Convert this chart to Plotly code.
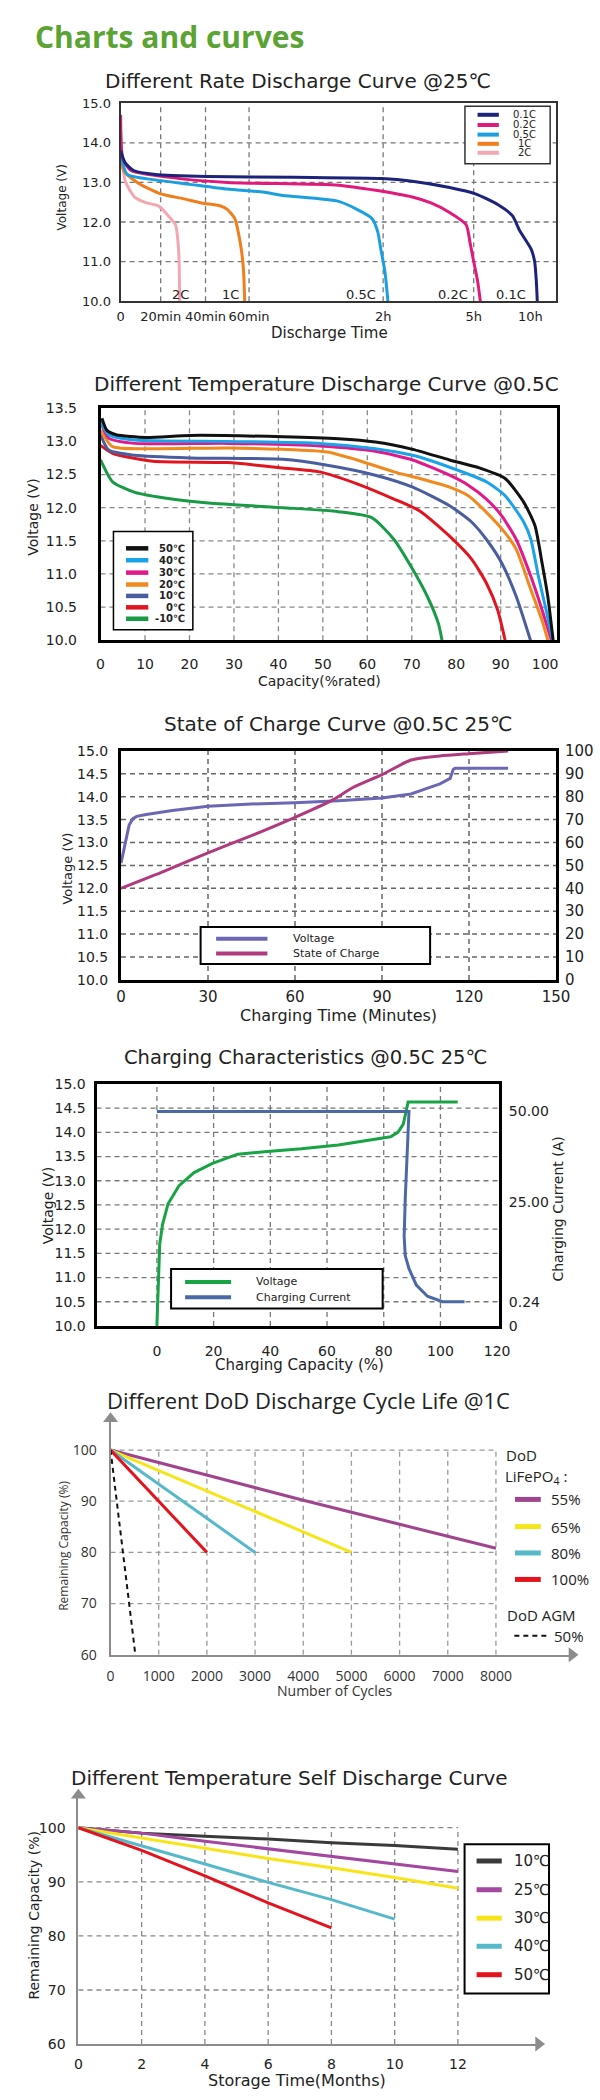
import numpy as np
import plotly.graph_objects as go

W, H = 600, 2100
F_DV = "DejaVu Sans"
F_OS = "Open Sans"

# ======================= DATA =======================
# --- Panel 1: Different Rate Discharge Curve @25C (time in minutes, voltage V)
RATE_NAMES = ["0.1C", "0.2C", "0.5C", "1C", "2C"]
R01_T = [0, 2.2, 6.5, 17.4, 41, 80.5, 119.4, 178, 252, 309, 427, 505, 545, 605, 623, 632, 637]
R01_V = [13.8, 13.5, 13.3, 13.2, 13.15, 13.13, 13.1, 13.03, 12.87, 12.71, 12.44, 12.16, 11.77, 11.31, 11.0, 10.5, 10.0]
R02_T = [0, 1.1, 5.2, 24.9, 50, 100, 116.7, 178, 215, 252, 285, 293, 300, 321, 335]
R02_V = [14.7, 13.6, 13.3, 13.12, 13.0, 12.93, 12.8, 12.63, 12.48, 12.24, 11.93, 11.46, 11.0, 10.5, 10.0]
R05_T = [0, 3.3, 16.3, 33.2, 50, 66.8, 75.2, 100, 108.3, 115, 117.5, 119, 123.5, 129.5]
R05_V = [13.75, 13.2, 13.07, 12.95, 12.83, 12.75, 12.67, 12.52, 12.32, 12.09, 11.77, 11.3, 10.75, 10.0]
R1_T = [0, 1.5, 8.9, 20, 29.9, 38.3, 46.6, 50, 53.4, 56, 57.4, 58]
R1_V = [14.3, 13.3, 12.98, 12.71, 12.59, 12.48, 12.41, 12.32, 12.09, 11.46, 10.83, 10.0]
R2_T = [0, 2.4, 7.0, 12.6, 19.1, 23.3, 26.6, 28.0, 28.5]
R2_V = [13.93, 13.02, 12.63, 12.49, 12.4, 12.16, 11.93, 11.3, 10.0]
RATE_T = [R01_T, R02_T, R05_T, R1_T, R2_T]
RATE_V = [R01_V, R02_V, R05_V, R1_V, R2_V]
RATE_END_LABEL_T = [496, 258, 110, 51.4, 28.7]
TIME_TICK_MIN = [0, 20, 40, 60, 120, 300, 600]
TIME_TICK_LABELS = ["0", "20min", "40min", "60min", "2h", "5h", "10h"]
VOLT_TICKS_1 = [10, 11, 12, 13, 14, 15]

# --- Panel 2: Different Temperature Discharge Curve @0.5C (capacity %, voltage V)
TEMP_NAMES = ["50℃", "40℃", "30℃", "20℃", "10℃", "0℃", "-10℃"]
T50_X = [0.3, 1.4, 3.5, 10.2, 20.2, 41, 53.5, 61.8, 70.2, 78.5, 85.2, 91, 95.2, 97.7, 99.3, 100.6, 101.8]
T50_V = [13.35, 13.17, 13.10, 13.06, 13.09, 13.07, 13.04, 12.99, 12.88, 12.72, 12.6, 12.44, 12.08, 11.73, 11.17, 10.66, 10.0]
T40_X = [0, 1.8, 7.7, 28.5, 49.3, 61.8, 70.2, 78.5, 86.8, 91, 95.2, 96.8, 98.5, 100.2, 101.7]
T40_V = [13.3, 13.1, 13.02, 13.0, 12.97, 12.89, 12.79, 12.61, 12.39, 12.18, 11.78, 11.52, 10.96, 10.46, 10.0]
T30_X = [0, 1.8, 7.7, 28.5, 49.3, 61.8, 70.2, 78.5, 82.7, 86.8, 90.2, 93.5, 96.8, 99.3, 101.4]
T30_V = [13.3, 13.05, 12.97, 12.97, 12.93, 12.85, 12.72, 12.49, 12.34, 12.13, 11.88, 11.52, 10.96, 10.46, 10.0]
T20_X = [0, 2.7, 11.8, 28.5, 41, 51, 57.7, 66, 71.8, 78.5, 82.7, 86.8, 91, 93.5, 96.8, 99.3, 100.6]
T20_V = [13.17, 12.92, 12.89, 12.9, 12.88, 12.84, 12.72, 12.54, 12.44, 12.31, 12.18, 11.93, 11.62, 11.37, 10.76, 10.3, 10.0]
T10_X = [0, 1.8, 7.7, 20.2, 41, 51, 61.8, 70.2, 78.5, 83.5, 86.8, 90.2, 93.5, 96.7]
T10_V = [13.1, 12.87, 12.79, 12.75, 12.73, 12.64, 12.49, 12.31, 12.03, 11.78, 11.52, 11.17, 10.66, 10.0]
T0_X = [0, 2.7, 11.8, 28.5, 41, 49.3, 57.7, 66, 71.8, 78.5, 83.5, 86.8, 89.3, 91]
T0_V = [12.94, 12.82, 12.7, 12.68, 12.6, 12.54, 12.36, 12.13, 11.95, 11.57, 11.22, 10.86, 10.46, 10.0]
TM10_X = [0, 2.7, 7.7, 16, 24.3, 41, 53.5, 61, 66, 70.2, 73.5, 76, 76.8]
TM10_V = [12.72, 12.39, 12.23, 12.13, 12.07, 12.0, 11.94, 11.85, 11.52, 11.07, 10.66, 10.25, 10.0]
TEMP_X = [T50_X, T40_X, T30_X, T20_X, T10_X, T0_X, TM10_X]
TEMP_V = [T50_V, T40_V, T30_V, T20_V, T10_V, T0_V, TM10_V]
CAP_TICKS_2 = [0, 10, 20, 30, 40, 50, 60, 70, 80, 90, 100]
VOLT_TICKS_2 = [10.0, 10.5, 11.0, 11.5, 12.0, 12.5, 13.0, 13.5]

# --- Panel 3: State of Charge Curve @0.5C 25C (minutes)
SOC_NAMES = ["Voltage", "State of Charge"]
V3_T = [0, 1.5, 2.8, 4.1, 5.4, 8.7, 17.7, 30, 45, 60, 75, 90, 100, 105, 110, 113.5, 114.6, 115.2, 133.5]
V3_V = [12.55, 13.02, 13.38, 13.52, 13.57, 13.61, 13.7, 13.79, 13.84, 13.87, 13.91, 13.97, 14.06, 14.17, 14.28, 14.4, 14.6, 14.62, 14.62]
S3_T = [0, 15, 30, 45, 60, 72.7, 80, 90, 100, 110, 120, 133.5]
S3_P = [40, 47.5, 55.5, 63, 71, 78.4, 84, 89.6, 96, 97.8, 98.8, 100]
TIME_TICKS_3 = [0, 30, 60, 90, 120, 150]
VOLT_TICKS_3 = [10.0, 10.5, 11.0, 11.5, 12.0, 12.5, 13.0, 13.5, 14.0, 14.5, 15.0]
SOC_TICKS_3 = [0, 10, 20, 30, 40, 50, 60, 70, 80, 90, 100]

# --- Panel 4: Charging Characteristics @0.5C 25C (capacity %)
CHG_NAMES = ["Voltage", "Charging Current"]
G4_X = [0, 0.4, 1.0, 2.0, 3.9, 7.8, 13.1, 19.6, 28.5, 37.9, 51, 64, 77.1, 82.4, 85, 86.9, 88.2, 88.6, 106.1]
G4_V = [10.0, 10.59, 11.69, 12.1, 12.52, 12.9, 13.17, 13.36, 13.55, 13.6, 13.66, 13.74, 13.86, 13.91, 14.0, 14.17, 14.52, 14.63, 14.63]
C4_X = [0, 88.9, 87.6, 87.2, 87.6, 88.9, 91.5, 95.4, 100.7, 108.5]
C4_A = [50, 50, 26.3, 16.5, 11.7, 8.5, 4.4, 1.6, 0.24, 0.24]
CAP_TICKS_4 = [0, 20, 40, 60, 80, 100, 120]
VOLT_TICKS_4 = [10.0, 10.5, 11.0, 11.5, 12.0, 12.5, 13.0, 13.5, 14.0, 14.5, 15.0]
CUR_TICKS_4 = [0, 0.24, 25, 50]
CUR_LABELS_4 = ["0", "0.24", "25.00", "50.00"]

# --- Panel 5: Different DoD Discharge Cycle Life @1C
DOD_NAMES = ["55%", "65%", "80%", "100%"]
D55_N = [0, 2000, 4000, 6000, 8000]
D55_C = [100, 95.1, 90.2, 85.5, 80.8]
D65_N = [0, 2000, 5000]
D65_C = [100, 92.0, 80]
D80_N = [0, 1000, 3000]
D80_C = [100, 93.3, 80]
D100_N = [0, 1000, 2000]
D100_C = [100, 90.1, 80]
DOD_N = [D55_N, D65_N, D80_N, D100_N]
DOD_C = [D55_C, D65_C, D80_C, D100_C]
AGM_NAME = "50%"
AGM_N = [0, 515]
AGM_C = [100, 60]
CYCLE_TICKS = [0, 1000, 2000, 3000, 4000, 5000, 6000, 7000, 8000]
CAP_TICKS_5 = [60, 70, 80, 90, 100]

# --- Panel 6: Different Temperature Self Discharge Curve
SD_NAMES = ["10℃", "25℃", "30℃", "40℃", "50℃"]
SD_MONTHS = [0, 2, 4, 6, 8, 10, 12]
SD_10 = [100, 99.0, 98.4, 97.9, 97.2, 96.7, 96.0]
SD_25 = [100, 99.0, 97.5, 96.1, 94.6, 93.3, 91.9]
SD_30 = [100, 98.1, 96.2, 94.3, 92.6, 90.8, 88.8]
SD_40 = [100, 96.7, 93.3, 89.9, 86.7, 83.1]
SD_50 = [100, 95.8, 91.1, 86.1, 81.5]
SD_VALUES = [SD_10, SD_25, SD_30, SD_40, SD_50]
MONTH_TICKS = [0, 2, 4, 6, 8, 10, 12]
CAP_TICKS_6 = [60, 70, 80, 90, 100]

# ======================= STYLE / LAYOUT =======================
RATE_COLORS = ["#1b237a", "#e0197d", "#1b9fe0", "#f07e1c", "#f4a7b0"]
TEMP_COLORS = ["#111111", "#1aa3e8", "#e01a8a", "#f08a1f", "#4a5d9e", "#e0151f", "#199a46"]
SOC_COLORS = ["#6b67b5", "#b03a7e"]
CHG_COLORS = ["#18a444", "#4a69a5"]
DOD_COLORS = ["#a0448e", "#f5e61a", "#55b9c9", "#e3141e"]
SD_COLORS = ["#3a3a3a", "#a2489e", "#f7e51a", "#55b9c9", "#e3141e"]
AXIS_GRAY = "#8c8c8c"

# axis extents of the two open (arrowed) panels
P5_XMAX, P5_YMAX = 9578, 106.1
P6_XMAX, P6_YMAX = 14.55, 106


def fx(px):
    return px / W


def fy(py):
    return 1 - py / H


# compressed time axis of panel 1: minutes -> percent of axis width
TIME_SCALE_MIN = [0, 20, 40, 60, 120, 300, 600, 736]
TIME_SCALE_POS = [0, 9.2, 19.5, 29.5, 60.3, 81.1, 94.1, 100]


def time_pos(t):
    return np.interp(np.asarray(t, float), TIME_SCALE_MIN, TIME_SCALE_POS)


# non-linear current axis of panel 4: amps -> fraction of plot height
CUR_SCALE_POS = [0, 0.1, 0.51, 0.886]


def cur_pos(a):
    return np.interp(np.asarray(a, float), CUR_TICKS_4, CUR_SCALE_POS)


fig = go.Figure()
shapes = []
annotations = []


def line_trace(x, y, color, width, xa, ya, name, shape="spline", dash=None, smoothing=0.6):
    ln = dict(color=color, width=width, shape=shape)
    if shape == "spline":
        ln["smoothing"] = smoothing
    if dash:
        ln["dash"] = dash
    fig.add_trace(go.Scatter(x=list(x), y=list(y), mode="lines", line=ln, name=name,
                             xaxis=xa, yaxis=ya, showlegend=False, hoverinfo="skip"))


def text(t, x, y, size, family=F_DV, color="#222", xanchor="center", yanchor="middle",
         angle=0, weight="normal", xref="paper", yref="paper"):
    if xref == "paper":
        x = fx(x)
    if yref == "paper":
        y = fy(y)
    annotations.append(dict(text=t, x=x, y=y, xref=xref, yref=yref, showarrow=False,
                            xanchor=xanchor, yanchor=yanchor, textangle=angle,
                            font=dict(family=family, size=size, color=color, weight=weight)))


def grid(xref, yref, xs, ys, xspan, yspan, color, dash="5px,4px", width=1.3):
    for v in xs:
        shapes.append(dict(type="line", xref=xref, yref=yref, x0=v, x1=v, y0=yspan[0], y1=yspan[1],
                           line=dict(color=color, width=width, dash=dash), layer="below"))
    for v in ys:
        shapes.append(dict(type="line", xref=xref, yref=yref, y0=v, y1=v, x0=xspan[0], x1=xspan[1],
                           line=dict(color=color, width=width, dash=dash), layer="below"))


def legend_box(x0, x1, y0, y1, width=2, color="black"):
    shapes.append(dict(type="rect", xref="paper", yref="paper", x0=fx(x0), x1=fx(x1),
                       y0=fy(y1), y1=fy(y0), line=dict(color=color, width=width),
                       fillcolor="rgba(255,255,255,1)", layer="above"))


def legend_entries(names, colors, ys, lx0, lx1, tx, size, lw=4, family=F_DV, anchor="left",
                   weight="normal", dashes=None):
    for i, (n, c, yy) in enumerate(zip(names, colors, ys)):
        d = dashes[i] if dashes else "solid"
        shapes.append(dict(type="line", xref="paper", yref="paper", x0=fx(lx0), x1=fx(lx1),
                           y0=fy(yy), y1=fy(yy), line=dict(color=c, width=lw, dash=d), layer="above"))
        text(n, tx, yy, size, family=family, xanchor=anchor, weight=weight)


def frame_axis(**kw):
    base = dict(showline=True, mirror=True, linecolor="black", linewidth=2, ticks="", ticklen=0,
                showgrid=False, zeroline=False, fixedrange=True, tickmode="array",
                tickfont=dict(family=F_DV, size=14, color="#222"))
    base.update(kw)
    return base


# ---------------- Panel 1 ----------------
for name, t, v, c in reversed(list(zip(RATE_NAMES, RATE_T, RATE_V, RATE_COLORS))):
    line_trace(time_pos(t), v, c, 3, "x", "y", name)
for name, t in zip(RATE_NAMES, RATE_END_LABEL_T):
    text(name, float(time_pos(t)), 10.17, 13, xref="x", yref="y")
grid("x", "y", time_pos(TIME_TICK_MIN[1:6]), VOLT_TICKS_1[1:-1], [0, 100], [10, 15], "#777")

# ---------------- Panel 2 ----------------
for name, x, v, c in reversed(list(zip(TEMP_NAMES, TEMP_X, TEMP_V, TEMP_COLORS))):
    line_trace(x, v, c, 3, "x2", "y2", name)
grid("x2", "y2", CAP_TICKS_2[1:-1], VOLT_TICKS_2[1:-2], [0, 102.7], [10, 13.5], "#888")

# ---------------- Panel 3 ----------------
line_trace(V3_T, V3_V, SOC_COLORS[0], 3, "x3", "y3", SOC_NAMES[0], shape="linear")
line_trace(S3_T, S3_P, SOC_COLORS[1], 3, "x3", "y4", SOC_NAMES[1])
grid("x3", "y3", TIME_TICKS_3[1:-1], VOLT_TICKS_3[1:-1], [0, 150], [10, 15], "#666", width=1.5)

# ---------------- Panel 4 ----------------
line_trace(G4_X, G4_V, CHG_COLORS[0], 3, "x4", "y5", CHG_NAMES[0], shape="linear")
line_trace(C4_X, cur_pos(C4_A), CHG_COLORS[1], 3, "x4", "y6", CHG_NAMES[1], shape="linear")
grid("x4", "y5", CAP_TICKS_4[:-1], VOLT_TICKS_4[1:-1], [-21.3, 120.6], [10, 15], "#777")

# ---------------- Panel 5 ----------------
grid("x5", "y7", CYCLE_TICKS[1:], CAP_TICKS_5[1:], [0, 8000], [60, 100], "#999")
for name, n, cval, c in zip(DOD_NAMES, DOD_N, DOD_C, DOD_COLORS):
    line_trace(n, cval, c, 3, "x5", "y7", name, shape="linear")
line_trace(AGM_N, AGM_C, "#111", 2, "x5", "y7", AGM_NAME, shape="linear", dash="5px,4px")

# ---------------- Panel 6 ----------------
grid("x6", "y8", MONTH_TICKS[1:], CAP_TICKS_6[1:], [0, 12], [60, 100], "#888")
for name, v, c in zip(SD_NAMES, SD_VALUES, SD_COLORS):
    line_trace(SD_MONTHS[:len(v)], v, c, 3, "x6", "y8", name, shape="linear")

# axis arrowheads of the open panels (markers at the axis ends)
for xa, ya, xs, ys, sym in [("x5", "y7", [P5_XMAX], [60], "triangle-right"),
                            ("x5", "y7", [0], [P5_YMAX], "triangle-up"),
                            ("x6", "y8", [P6_XMAX], [60], "triangle-right"),
                            ("x6", "y8", [0], [P6_YMAX], "triangle-up")]:
    fig.add_trace(go.Scatter(x=xs, y=ys, mode="markers", xaxis=xa, yaxis=ya, cliponaxis=False,
                             marker=dict(symbol=sym, size=13, color=AXIS_GRAY),
                             showlegend=False, hoverinfo="skip"))

# ---------------- Legends ----------------
legend_box(475, 563, 98, 156, width=1.5, color="#333")
legend_entries(RATE_NAMES, RATE_COLORS, [106.7, 117, 126.7, 136, 145], 488, 510, 537, 10,
               anchor="center")
legend_box(112, 194, 527, 626, width=1.5)
legend_entries(TEMP_NAMES, TEMP_COLORS, [544, 556, 568.5, 580.5, 592, 603.5, 615], 125, 148, 188, 10,
               lw=4.5, anchor="right", weight="bold")
legend_box(202, 439, 926, 963.3)
legend_entries(SOC_NAMES, SOC_COLORS, [937.7, 952.7], 218, 271, 295.5, 11)
legend_box(171.5, 390, 1271, 1310.7)
legend_entries(CHG_NAMES, CHG_COLORS, [1284, 1299.3], 186, 233.5, 257, 11)
text("DoD", 515, 1459, 15, family=F_OS, xanchor="left")
text("LiFePO<sub>4</sub> :", 514, 1481, 15, family=F_OS, xanchor="left")
legend_entries(DOD_NAMES, DOD_COLORS, [1503.3, 1530.7, 1557.3, 1584], 526.7, 553.3, 561.7, 15,
               lw=5, family=F_OS)
text("DoD AGM", 516.6, 1620, 15, family=F_OS, xanchor="left")
legend_entries([AGM_NAME], ["#111"], [1640.7], 526, 560.7, 564.5, 15, lw=2, family=F_OS,
               dashes=["5px,4px"])
legend_box(474.6, 561.8, 1851, 2001.7)
legend_entries(SD_NAMES, SD_COLORS, [1868, 1897, 1925.7, 1954, 1982.7], 487, 513, 523.5, 15, lw=5)

# ---------------- Titles ----------------
text("Charts and curves", 28.7, 28, 30, family=F_OS, color="#5ba333", xanchor="left", weight="bold")
text("Different Rate Discharge Curve @25℃", 303, 73, 20)
text("Voltage (V)", 59, 190, 12, angle=-90)
text("Discharge Time", 335, 327, 15)
text("Different Temperature Discharge Curve @0.5C", 331.6, 378.5, 20)
text("Voltage (V)", 29, 513, 14, angle=-90)
text("Capacity(%rated)", 325, 678, 14)
text("State of Charge Curve @0.5C 25℃", 344, 721, 20)
text("Voltage (V)", 65, 867, 13, angle=-90)
text("Charging Time (Minutes)", 344, 1015, 16)
text("Charging Characteristics @0.5C 25℃", 310, 1058, 19.5)
text("Voltage (V)", 44, 1207, 14, angle=-90)
text("Charging Current (A)", 571, 1210, 14, angle=-90)
text("Charging Capacity (%)", 304, 1368, 15)
text("Different DoD Discharge Cycle Life @1C", 313, 1403, 22, family=F_OS)
text("Remaining Capacity (%)", 61, 1550, 12, family=F_OS, angle=-90, color="#333")
text("Number of Cycles", 340.6, 1696, 14, family=F_OS, color="#333")
text("Different Temperature Self Discharge Curve", 294, 1784, 20)
text("Remaining Capacity (%)", 29, 1923, 14, angle=-90)
text("Storage Time(Months)", 302, 2089, 16)

open_axis = dict(showline=True, mirror=False, linecolor=AXIS_GRAY, linewidth=2, ticks="", ticklen=0,
                 showgrid=False, zeroline=False, fixedrange=True, tickmode="array")

fig.update_layout(
    width=W, height=H, autosize=False,
    margin=dict(l=0, r=0, t=0, b=0),
    paper_bgcolor="white", plot_bgcolor="white", showlegend=False,
    # panel 1
    xaxis=frame_axis(domain=[fx(119.4), fx(569)], range=[0, 100], anchor="y",
                     tickvals=list(time_pos(TIME_TICK_MIN)), ticktext=TIME_TICK_LABELS,
                     linecolor="#333", ticklabelstandoff=2, tickfont=dict(family=F_DV, size=13, color="#222")),
    yaxis=frame_axis(domain=[fy(294.7), fy(95)], range=[10, 15], anchor="x",
                     tickvals=VOLT_TICKS_1, tickformat=".1f", linecolor="#333", ticklabelstandoff=5,
                     tickfont=dict(family=F_DV, size=13, color="#222")),
    # panel 2
    xaxis2=frame_axis(domain=[fx(98.7), fx(570.2)], range=[0, 102.7], anchor="y2",
                      tickvals=CAP_TICKS_2, ticklabelstandoff=9, linewidth=2.5),
    yaxis2=frame_axis(domain=[fy(636.7), fy(402.7)], range=[10, 13.5], anchor="x2",
                      tickvals=VOLT_TICKS_2, tickformat=".1f", ticklabelstandoff=18, linewidth=2.5),
    # panel 3
    xaxis3=frame_axis(domain=[fx(119.8), fx(569)], range=[0, 150], anchor="y3",
                      tickvals=TIME_TICKS_3, ticklabelstandoff=1, linewidth=3,
                      tickfont=dict(family=F_DV, size=15, color="#222")),
    yaxis3=frame_axis(domain=[fy(979.3), fy(748.3)], range=[10, 15], anchor="x3",
                      tickvals=VOLT_TICKS_3, tickformat=".1f", ticklabelstandoff=7, linewidth=3),
    yaxis4=dict(domain=[fy(979.3), fy(748.3)], range=[0, 100], anchor="x3", overlaying="y3",
                side="right", showline=False, showgrid=False, zeroline=False, ticks="", ticklen=0,
                tickmode="array", tickvals=SOC_TICKS_3, ticklabelstandoff=8, fixedrange=True,
                tickfont=dict(family=F_DV, size=15, color="#222")),
    # panel 4
    xaxis4=frame_axis(domain=[fx(94.5), fx(510)], range=[-21.3, 120.6], anchor="y5",
                      tickvals=CAP_TICKS_4, ticklabelstandoff=10, linewidth=3),
    yaxis5=frame_axis(domain=[fy(1328.3), fy(1084.3)], range=[10, 15], anchor="x4",
                      tickvals=VOLT_TICKS_4, tickformat=".1f", ticklabelstandoff=5, linewidth=3),
    yaxis6=dict(domain=[fy(1328.3), fy(1084.3)], range=[0, 1], anchor="x4", overlaying="y5",
                side="right", showline=False, showgrid=False, zeroline=False, ticks="", ticklen=0,
                tickmode="array", tickvals=CUR_SCALE_POS, ticktext=CUR_LABELS_4,
                ticklabelstandoff=9, fixedrange=True,
                tickfont=dict(family=F_DV, size=14, color="#222")),
    # panel 5
    xaxis5=dict(open_axis, domain=[fx(109), fx(585.5)], range=[0, P5_XMAX], anchor="y7",
                tickvals=CYCLE_TICKS, ticklabelstandoff=7,
                tickfont=dict(family=F_OS, size=14, color="#333")),
    yaxis7=dict(open_axis, domain=[fy(1660), fy(1422)], range=[60, P5_YMAX], anchor="x5",
                tickvals=CAP_TICKS_5, ticklabelstandoff=9,
                tickfont=dict(family=F_OS, size=14, color="#333")),
    # panel 6
    xaxis6=dict(open_axis, domain=[fx(75.8), fx(551)], range=[0, P6_XMAX], anchor="y8",
                tickvals=MONTH_TICKS, ticklabelstandoff=6,
                tickfont=dict(family=F_DV, size=14, color="#222")),
    yaxis8=dict(open_axis, domain=[fy(2052.7), fy(1801.7)], range=[60, P6_YMAX], anchor="x6",
                tickvals=CAP_TICKS_6, ticklabelstandoff=8,
                tickfont=dict(family=F_DV, size=14, color="#222")),
    shapes=shapes,
    annotations=annotations,
)

fig.write_html("out.html", config={"displayModeBar": False},
               post_script="document.body.style.margin='0';")
